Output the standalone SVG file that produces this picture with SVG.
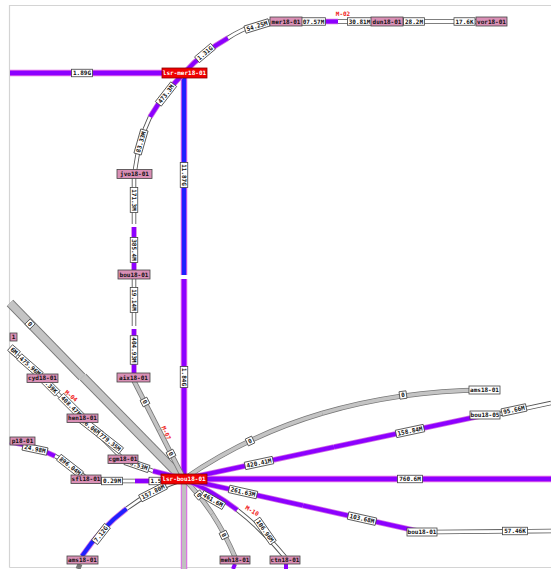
<svg xmlns="http://www.w3.org/2000/svg" width="551" height="569" viewBox="0 0 551 569">
<style>
path{fill:none}
.t{font-family:"DejaVu Sans Mono","Liberation Mono",monospace;font-size:6px;font-weight:bold;text-anchor:middle}
.lb{fill:#fff;stroke:#444;stroke-width:0.8}
.lt{fill:#111}
.np{fill:#d98fb5;stroke:#444;stroke-width:0.8}
.nr{fill:#f00000;stroke:#800;stroke-width:0.8}
.nw{fill:#fff;stroke:#444;stroke-width:0.8}
.wt{fill:#fff}
.m{fill:#f02020}
.fr{stroke:#d4d4d4;stroke-width:1.2}
.Mo{stroke:#e060e8;stroke-width:6.5}
.Mp{stroke:#8c00ff;stroke-width:4.5}
.Mb{stroke:#2020ff;stroke-width:4.5}
.Mg{stroke:#c0c0c0;stroke-width:4.5}
.Ao{stroke:#d070e0;stroke-width:5.5}
.Ap{stroke:#8c00ff;stroke-width:4}
.Ab{stroke:#2020ff;stroke-width:4}
.Ho{stroke:#555;stroke-width:4.5}
.Hf{stroke:#fff;stroke-width:2.8}
.Go{stroke:#777;stroke-width:5}
.Gf{stroke:#c4c4c4;stroke-width:3.5}
.Do{stroke:#777;stroke-width:9}
.Df{stroke:#c4c4c4;stroke-width:7.4}
</style>
<defs>
<path id="h189" d="M10,73H162"/>
<path id="v1" d="M184,78V275"/>
<path id="v2" d="M184,474V279"/>
<path id="h760" d="M207,479H551"/>
<path id="vd" d="M184,484V569"/>
<path id="a1" d="M184,73Q203,52 228,38"/>
<path id="a2" d="M270,21.5Q248,25 228,38"/>
<path id="a3" d="M184,73Q165,92 150,117"/>
<path id="a4" d="M135,170Q139,140 150,117"/>
<path id="j1" d="M134,178V224"/>
<path id="j2" d="M134,270V227"/>
<path id="j3" d="M134,279V326"/>
<path id="j4" d="M134,373V329"/>
<path id="x1" d="M134,381L159,430"/>
<path id="x2" d="M184,479L159,430"/>
<path id="dg1" d="M10,303L82,377"/>
<path id="dg2" d="M184,480L83,377"/>
<path id="c1" d="M10,350L42,378"/>
<path id="c2" d="M42,378L82,418"/>
<path id="c3" d="M82,418L123,459"/>
<path id="c4" d="M123,459L153,471"/>
<path id="c5" d="M184,479L153,471"/>
<path id="s1" d="M10,442Q32,445 55,456"/>
<path id="s2" d="M86,478Q70,463 55,456"/>
<path id="s3" d="M86,481H135"/>
<path id="s4" d="M184,481H135"/>
<path id="b1" d="M184,479Q152,489.5 126.5,508.75"/>
<path id="b2" d="M82,556Q101,528 126.5,508.75"/>
<path id="e1" d="M184,479Q199.5,494.5 212.25,514"/>
<path id="e2" d="M235,557Q225,533.5 212.25,514"/>
<path id="f1" d="M184,479Q212,490.5 237.25,510"/>
<path id="f2" d="M285,557Q262.5,529.5 237.25,510"/>
<path id="r1" d="M184,479L303,505.5"/>
<path id="r2" d="M422,532L303,505.5"/>
<path id="r3" d="M437,532L551,531"/>
<path id="q1" d="M184,479L334,447"/>
<path id="q2" d="M485,415L334,447"/>
<path id="q3" d="M500,414L551,403"/>
<path id="g1" d="M184,479Q247,435.5 322.25,413.25"/>
<path id="g2" d="M485,390Q397.5,391 322.25,413.25"/>
<path id="t1" d="M302,21.5H338"/>
<path id="t2" d="M371,21.5H338"/>
<path id="t3" d="M403,21.5H440"/>
<path id="t4" d="M476,21.5H440"/>
<path id="u1" d="M235,564L233,569"/>
<path id="u2" d="M286,564L286,569"/>
<path id="u3" d="M80,564L78,569"/>
</defs>

<g id="frame">
<path class="fr" d="M9.5,567.5V5.5H551"/>
<path class="fr" d="M9.5,567.5H551"/>
</g>

<g id="connectors">
<use href="#dg1" class="Do"/><use href="#dg1" class="Df"/>
<use href="#dg2" class="Do"/><use href="#dg2" class="Df"/>
<use href="#h189" class="Mo"/><use href="#h189" class="Mp"/>
<use href="#v1" class="Mo"/><use href="#v1" class="Mb"/>
<use href="#v2" class="Mo"/><use href="#v2" class="Mp"/>
<use href="#h760" class="Mo"/><use href="#h760" class="Mp"/>
<use href="#vd" class="Mo"/><use href="#vd" class="Mg"/>
<use href="#a1" class="Ao"/><use href="#a1" class="Ap"/>
<use href="#a2" class="Ho"/><use href="#a2" class="Hf"/>
<use href="#a3" class="Ao"/><use href="#a3" class="Ap"/>
<use href="#a4" class="Ho"/><use href="#a4" class="Hf"/>
<use href="#j1" class="Ho"/><use href="#j1" class="Hf"/>
<use href="#j2" class="Ao"/><use href="#j2" class="Ap"/>
<use href="#j3" class="Ho"/><use href="#j3" class="Hf"/>
<use href="#j4" class="Ao"/><use href="#j4" class="Ap"/>
<use href="#x1" class="Go"/><use href="#x1" class="Gf"/>
<use href="#x2" class="Go"/><use href="#x2" class="Gf"/>
<use href="#c1" class="Ho"/><use href="#c1" class="Hf"/>
<use href="#c2" class="Ho"/><use href="#c2" class="Hf"/>
<use href="#c3" class="Ho"/><use href="#c3" class="Hf"/>
<use href="#c4" class="Ho"/><use href="#c4" class="Hf"/>
<use href="#c5" class="Ao"/><use href="#c5" class="Ap"/>
<use href="#s1" class="Ao"/><use href="#s1" class="Ap"/>
<use href="#s2" class="Ho"/><use href="#s2" class="Hf"/>
<use href="#s3" class="Ho"/><use href="#s3" class="Hf"/>
<use href="#s4" class="Ao"/><use href="#s4" class="Ap"/>
<use href="#b1" class="Ho"/><use href="#b1" class="Hf"/>
<use href="#b2" class="Ao"/><use href="#b2" class="Ab"/>
<use href="#e1" class="Go"/><use href="#e1" class="Gf"/>
<use href="#e2" class="Go"/><use href="#e2" class="Gf"/>
<use href="#f1" class="Ao"/><use href="#f1" class="Ap"/>
<use href="#f2" class="Ho"/><use href="#f2" class="Hf"/>
<use href="#r1" class="Ao"/><use href="#r1" class="Ap"/>
<use href="#r2" class="Ao"/><use href="#r2" class="Ap"/>
<use href="#r3" class="Ho"/><use href="#r3" class="Hf"/>
<use href="#q1" class="Ao"/><use href="#q1" class="Ap"/>
<use href="#q2" class="Ao"/><use href="#q2" class="Ap"/>
<use href="#q3" class="Ho"/><use href="#q3" class="Hf"/>
<use href="#g1" class="Go"/><use href="#g1" class="Gf"/>
<use href="#g2" class="Go"/><use href="#g2" class="Gf"/>
<use href="#t1" class="Ao"/><use href="#t1" class="Ap"/>
<use href="#t2" class="Ho"/><use href="#t2" class="Hf"/>
<use href="#t3" class="Ho"/><use href="#t3" class="Hf"/>
<use href="#t4" class="Ho"/><use href="#t4" class="Hf"/>
<use href="#u1" class="Ap"/>
<use href="#u2" class="Ap"/>
<use href="#u3" class="Go"/>
</g>

<g id="labels" class="t">
<g transform="translate(82,73)"><rect class="lb" x="-10.5" y="-3.75" width="21" height="7.5"/><text class="lt" y="2.1">1.89G</text></g>
<g transform="translate(184,175) rotate(90)"><rect class="lb" x="-12.5" y="-3.75" width="25" height="7.5"/><text class="lt" y="2.1">11.87G</text></g>
<g transform="translate(184,377) rotate(90)"><rect class="lb" x="-10.5" y="-3.75" width="21" height="7.5"/><text class="lt" y="2.1">1.84G</text></g>
<g transform="translate(205,53) rotate(-40)"><rect class="lb" x="-10.5" y="-3.75" width="21" height="7.5"/><text class="lt" y="2.1">1.31G</text></g>
<g transform="translate(257,26) rotate(-17)"><rect class="lb" x="-12.5" y="-3.75" width="25" height="7.5"/><text class="lt" y="2.1">54.25M</text></g>
<g transform="translate(166,94) rotate(-52)"><rect class="lb" x="-12.5" y="-3.75" width="25" height="7.5"/><text class="lt" y="2.1">473.3M</text></g>
<g transform="translate(141,142) rotate(-74)"><rect class="lb" x="-12.5" y="-3.75" width="25" height="7.5"/><text class="lt" y="2.1">83.33M</text></g>
<g transform="translate(134,200) rotate(90)"><rect class="lb" x="-12.5" y="-3.75" width="25" height="7.5"/><text class="lt" y="2.1">171.3M</text></g>
<g transform="translate(134,250) rotate(90)"><rect class="lb" x="-12.5" y="-3.75" width="25" height="7.5"/><text class="lt" y="2.1">385.4M</text></g>
<g transform="translate(134,300) rotate(90)"><rect class="lb" x="-12.5" y="-3.75" width="25" height="7.5"/><text class="lt" y="2.1">19.14M</text></g>
<g transform="translate(134,350) rotate(90)"><rect class="lb" x="-14.25" y="-3.75" width="28.5" height="7.5"/><text class="lt" y="2.1">404.93M</text></g>
<g transform="translate(145,402) rotate(63)"><rect class="lb" x="-3.5" y="-3.75" width="7" height="7.5"/><text class="lt" y="2.1">0</text></g>
<g transform="translate(171,454) rotate(63)"><rect class="lb" x="-3.5" y="-3.75" width="7" height="7.5"/><text class="lt" y="2.1">0</text></g>
<g transform="translate(30,324) rotate(46)"><rect class="lb" x="-3.5" y="-3.75" width="7" height="7.5"/><text class="lt" y="2.1">0</text></g>
<g transform="translate(14,351) rotate(41)"><rect class="lb" x="-5.25" y="-3.75" width="10.5" height="7.5"/><text class="lt" y="2.1">6M</text></g>
<g transform="translate(30,366) rotate(41)"><rect class="lb" x="-14.25" y="-3.75" width="28.5" height="7.5"/><text class="lt" y="2.1">475.96M</text></g>
<g transform="translate(50,386) rotate(45)"><rect class="lb" x="-10.5" y="-3.75" width="21" height="7.5"/><text class="lt" y="2.1">6.39K</text></g>
<g transform="translate(71,406) rotate(45)"><rect class="lb" x="-14.25" y="-3.75" width="28.5" height="7.5"/><text class="lt" y="2.1">408.47M</text></g>
<g transform="translate(91,427) rotate(38)"><rect class="lb" x="-12.5" y="-3.75" width="25" height="7.5"/><text class="lt" y="2.1">96.06M</text></g>
<g transform="translate(110,442) rotate(38)"><rect class="lb" x="-14.25" y="-3.75" width="28.5" height="7.5"/><text class="lt" y="2.1">779.35M</text></g>
<g transform="translate(137,465) rotate(19)"><rect class="lb" x="-12.5" y="-3.75" width="25" height="7.5"/><text class="lt" y="2.1">53.53M</text></g>
<g transform="translate(35,449) rotate(12)"><rect class="lb" x="-12.5" y="-3.75" width="25" height="7.5"/><text class="lt" y="2.1">24.98M</text></g>
<g transform="translate(70,466) rotate(38)"><rect class="lb" x="-14.25" y="-3.75" width="28.5" height="7.5"/><text class="lt" y="2.1">896.04M</text></g>
<g transform="translate(112,481)"><rect class="lb" x="-10.5" y="-3.75" width="21" height="7.5"/><text class="lt" y="2.1">0.29M</text></g>
<g transform="translate(156,481)"><rect class="lb" x="-7" y="-3.75" width="14" height="7.5"/><text class="lt" y="2.1">1.5</text></g>
<g transform="translate(153,492) rotate(-27)"><rect class="lb" x="-14.25" y="-3.75" width="28.5" height="7.5"/><text class="lt" y="2.1">157.80M</text></g>
<g transform="translate(101,534) rotate(-52)"><rect class="lb" x="-10.5" y="-3.75" width="21" height="7.5"/><text class="lt" y="2.1">7.12G</text></g>
<g transform="translate(199,495) rotate(50)"><rect class="lb" x="-3.5" y="-3.75" width="7" height="7.5"/><text class="lt" y="2.1">0</text></g>
<g transform="translate(224,535) rotate(65)"><rect class="lb" x="-3.5" y="-3.75" width="7" height="7.5"/><text class="lt" y="2.1">0</text></g>
<g transform="translate(213,500) rotate(30)"><rect class="lb" x="-12.5" y="-3.75" width="25" height="7.5"/><text class="lt" y="2.1">461.6M</text></g>
<g transform="translate(265,531) rotate(55)"><rect class="lb" x="-14.25" y="-3.75" width="28.5" height="7.5"/><text class="lt" y="2.1">106.96M</text></g>
<g transform="translate(243,492) rotate(12.6)"><rect class="lb" x="-14.25" y="-3.75" width="28.5" height="7.5"/><text class="lt" y="2.1">261.63M</text></g>
<g transform="translate(362,518.6) rotate(12.6)"><rect class="lb" x="-14.25" y="-3.75" width="28.5" height="7.5"/><text class="lt" y="2.1">103.68M</text></g>
<g transform="translate(515,531)"><rect class="lb" x="-12.5" y="-3.75" width="25" height="7.5"/><text class="lt" y="2.1">57.46K</text></g>
<g transform="translate(259,463) rotate(-12)"><rect class="lb" x="-14.25" y="-3.75" width="28.5" height="7.5"/><text class="lt" y="2.1">420.41M</text></g>
<g transform="translate(410,431) rotate(-12)"><rect class="lb" x="-14.25" y="-3.75" width="28.5" height="7.5"/><text class="lt" y="2.1">158.84M</text></g>
<g transform="translate(514,410) rotate(-12)"><rect class="lb" x="-12.5" y="-3.75" width="25" height="7.5"/><text class="lt" y="2.1">95.66M</text></g>
<g transform="translate(250,441) rotate(-25)"><rect class="lb" x="-3.5" y="-3.75" width="7" height="7.5"/><text class="lt" y="2.1">0</text></g>
<g transform="translate(403,395) rotate(-8)"><rect class="lb" x="-3.5" y="-3.75" width="7" height="7.5"/><text class="lt" y="2.1">0</text></g>
<g transform="translate(410,479)"><rect class="lb" x="-12.5" y="-3.75" width="25" height="7.5"/><text class="lt" y="2.1">760.6M</text></g>
<g transform="translate(313.5,21.5)"><rect class="lb" x="-12" y="-3.75" width="24" height="7.5"/><text class="lt" y="2.1">07.57M</text></g>
<g transform="translate(359.5,21.5)"><rect class="lb" x="-12" y="-3.75" width="24" height="7.5"/><text class="lt" y="2.1">30.81M</text></g>
<g transform="translate(414,21.5)"><rect class="lb" x="-10.5" y="-3.75" width="21" height="7.5"/><text class="lt" y="2.1">28.2M</text></g>
<g transform="translate(464.5,21.5)"><rect class="lb" x="-10.5" y="-3.75" width="21" height="7.5"/><text class="lt" y="2.1">17.6K</text></g>
<text class="m" x="343" y="16">M-02</text>
<text class="m" transform="translate(71,396) rotate(40)" y="2">M-04</text>
<text class="m" transform="translate(166,433) rotate(66)" y="2">M-07</text>
<text class="m" transform="translate(252,511) rotate(30)" y="2">M-10</text>
</g>

<g id="node-lsr-mer18-01" class="t"><rect class="nr" x="162" y="68" width="45" height="10"/><text class="wt" x="184.5" y="75.2">lsr-mer18-01</text></g>
<g id="node-lsr-bou18-01" class="t"><rect class="nr" x="161" y="474" width="46" height="10"/><text class="wt" x="184" y="481.2">lsr-bou18-01</text></g>
<g id="node-mer18-01" class="t"><rect class="np" x="270" y="17" width="32" height="9"/><text class="lt" x="286" y="23.6">mer18-01</text></g>
<g id="node-dun18-01" class="t"><rect class="np" x="371" y="17" width="32" height="9"/><text class="lt" x="387" y="23.6">dun18-01</text></g>
<g id="node-vor18-01" class="t"><rect class="np" x="476" y="17" width="31" height="9"/><text class="lt" x="491.5" y="23.6">vor18-01</text></g>
<g id="node-jvo18-01" class="t"><rect class="np" x="117" y="169.5" width="35" height="9"/><text class="lt" x="134.5" y="176.1">jvo18-01</text></g>
<g id="node-bou18-01-l" class="t"><rect class="np" x="118" y="270" width="32" height="9"/><text class="lt" x="134" y="276.6">bou18-01</text></g>
<g id="node-aix18-01" class="t"><rect class="np" x="117" y="373" width="33" height="9"/><text class="lt" x="133.5" y="379.6">aix18-01</text></g>
<g id="node-cyd18-01" class="t"><rect class="np" x="27" y="374" width="31" height="8.5"/><text class="lt" x="42.5" y="380.4">cyd18-01</text></g>
<g id="node-hen18-01" class="t"><rect class="np" x="67" y="414" width="31" height="8.5"/><text class="lt" x="82.5" y="420.4">hen18-01</text></g>
<g id="node-cgm18-01" class="t"><rect class="np" x="108" y="455" width="30" height="8.5"/><text class="lt" x="123" y="461.4">cgm18-01</text></g>
<g id="node-sfl18-01" class="t"><rect class="np" x="71" y="475" width="30" height="8.5"/><text class="lt" x="86" y="481.4">sfl18-01</text></g>
<g id="node-p18-01" class="t"><rect class="np" x="10" y="437" width="25" height="8"/><text class="lt" x="22.5" y="443.2">p18-01</text></g>
<g id="node-cut1" class="t"><rect class="np" x="10" y="333" width="7" height="8"/><text class="lt" x="13.5" y="339.2">1</text></g>
<g id="node-ams18-01-b" class="t"><rect class="np" x="67" y="556" width="31" height="8"/><text class="lt" x="82.5" y="562.2">ams18-01</text></g>
<g id="node-meh18-01" class="t"><rect class="np" x="220" y="556" width="30" height="8"/><text class="lt" x="235" y="562.2">meh18-01</text></g>
<g id="node-ctn18-01" class="t"><rect class="np" x="270" y="556" width="30" height="8"/><text class="lt" x="285" y="562.2">ctn18-01</text></g>
<g id="node-bou18-01-r" class="t"><rect class="nw" x="407" y="528" width="30" height="8"/><text class="lt" x="422" y="534.2">bou18-01</text></g>
<g id="node-ams18-01-r" class="t"><rect class="nw" x="469" y="386" width="31" height="8"/><text class="lt" x="484.5" y="392.2">ams18-01</text></g>
<g id="node-bou18-05" class="t"><rect class="nw" x="470" y="411" width="30" height="8"/><text class="lt" x="485" y="417.2">bou18-05</text></g>
</svg>
